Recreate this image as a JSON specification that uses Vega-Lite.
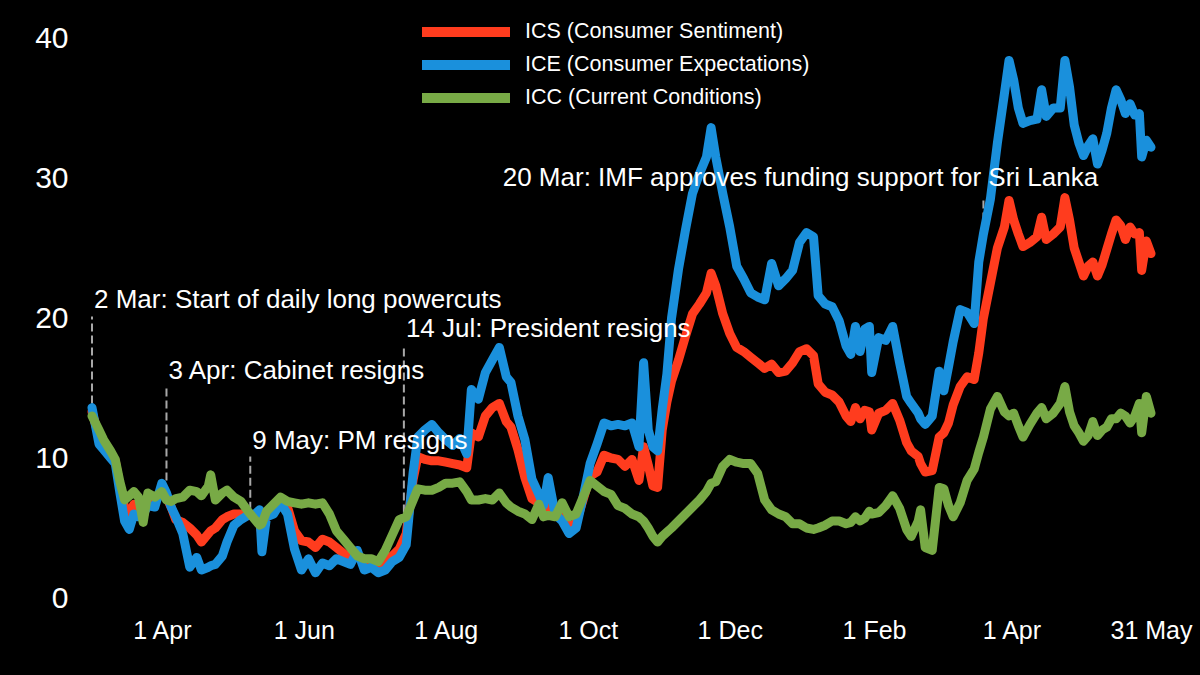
{
"$schema": "https://vega.github.io/schema/vega-lite/v6.json",
"width": 1059, "height": 560,
"autosize": {"type": "none"},
"padding": {"left": 92, "top": 38, "right": 49, "bottom": 77},
"background": "#000000",
"config": {"view": {"stroke": null}, "font": "Liberation Sans"},
"layer": [
{
"data": {"values": [
{"d":"2022-03-02","a":13.9,"b":20.1},
{"d":"2022-04-03","a":8.4,"b":15.1},
{"d":"2022-05-09","a":6.3,"b":10.1},
{"d":"2022-07-14","a":6.1,"b":18.1},
{"d":"2023-03-20","a":26.1,"b":28.6}
]},
"mark": {"type": "rule", "color": "#a8a8a8", "strokeWidth": 2, "strokeDash": [8, 4]},
"encoding": {
"x": {"field": "d", "type": "temporal",
"scale": {"type": "utc", "domain": [{"year":2022,"month":3,"date":2,"utc":true},{"year":2023,"month":5,"date":31,"utc":true}]},
"axis": {"values": [{"year":2022,"month":4,"date":1,"utc":true},{"year":2022,"month":6,"date":1,"utc":true},{"year":2022,"month":8,"date":1,"utc":true},{"year":2022,"month":10,"date":1,"utc":true},{"year":2022,"month":12,"date":1,"utc":true},{"year":2023,"month":2,"date":1,"utc":true},{"year":2023,"month":4,"date":1,"utc":true},{"year":2023,"month":5,"date":31,"utc":true}],
"labelExpr": "utcFormat(datum.value, '%-d %b')", "labelFontSize": 25, "labelColor": "#ffffff", "labelFont": "Liberation Sans",
"domain": false, "ticks": false, "grid": false, "labelPadding": 20, "title": null, "labelFlush": false, "labelOverlap": false}},
"y": {"field": "a", "type": "quantitative", "scale": {"domain": [0, 40], "nice": false},
"axis": {"values": [0, 10, 20, 30, 40], "labelFontSize": 30, "labelColor": "#ffffff", "labelFont": "Liberation Sans", "domain": false, "ticks": false, "grid": false, "labelPadding": 24, "title": null}},
"y2": {"field": "b"}
}
},
{
"data": {"values": [
{"d":"2022-03-02","ICS":13.3,"ICE":13.6,"ICC":13.0},
{"d":"2022-03-05","ICS":11.5,"ICE":11.0,"ICC":12.0},
{"d":"2022-03-07","ICS":11.0,"ICE":10.6,"ICC":11.3},
{"d":"2022-03-10","ICS":10.3,"ICE":10.0,"ICC":10.5},
{"d":"2022-03-12","ICS":9.8,"ICE":9.6,"ICC":9.9},
{"d":"2022-03-14","ICS":8.0,"ICE":7.5,"ICC":8.3},
{"d":"2022-03-16","ICS":6.5,"ICE":5.5,"ICC":7.0},
{"d":"2022-03-18","ICS":6.0,"ICE":4.9,"ICC":7.3},
{"d":"2022-03-20","ICS":6.7,"ICE":6.0,"ICC":7.6},
{"d":"2022-03-22","ICS":6.5,"ICE":5.8,"ICC":7.2},
{"d":"2022-03-24","ICS":5.8,"ICE":6.0,"ICC":5.4},
{"d":"2022-03-26","ICS":7.0,"ICE":6.6,"ICC":7.5},
{"d":"2022-03-29","ICS":6.8,"ICE":6.5,"ICC":7.2},
{"d":"2022-04-01","ICS":7.8,"ICE":8.2,"ICC":7.6},
{"d":"2022-04-03","ICS":7.2,"ICE":7.5,"ICC":7.0},
{"d":"2022-04-05","ICS":6.5,"ICE":6.5,"ICC":6.9},
{"d":"2022-04-07","ICS":5.6,"ICE":5.8,"ICC":7.1},
{"d":"2022-04-10","ICS":5.4,"ICE":4.6,"ICC":7.2},
{"d":"2022-04-13","ICS":5.0,"ICE":2.2,"ICC":7.7},
{"d":"2022-04-16","ICS":4.5,"ICE":2.9,"ICC":7.6},
{"d":"2022-04-18","ICS":4.0,"ICE":2.0,"ICC":7.3},
{"d":"2022-04-21","ICS":4.6,"ICE":2.2,"ICC":8.0},
{"d":"2022-04-22","ICS":4.8,"ICE":2.3,"ICC":8.8},
{"d":"2022-04-24","ICS":5.0,"ICE":2.4,"ICC":7.0},
{"d":"2022-04-27","ICS":5.6,"ICE":3.0,"ICC":7.5},
{"d":"2022-04-29","ICS":5.8,"ICE":4.0,"ICC":7.7},
{"d":"2022-05-02","ICS":6.0,"ICE":5.2,"ICC":7.2},
{"d":"2022-05-05","ICS":6.0,"ICE":5.6,"ICC":6.9},
{"d":"2022-05-08","ICS":6.0,"ICE":5.9,"ICC":6.2},
{"d":"2022-05-11","ICS":5.8,"ICE":6.0,"ICC":5.6},
{"d":"2022-05-13","ICS":5.5,"ICE":6.3,"ICC":5.2},
{"d":"2022-05-14","ICS":4.5,"ICE":3.3,"ICC":5.3},
{"d":"2022-05-16","ICS":6.0,"ICE":5.8,"ICC":6.2},
{"d":"2022-05-19","ICS":6.3,"ICE":6.0,"ICC":6.7},
{"d":"2022-05-22","ICS":7.0,"ICE":6.8,"ICC":7.2},
{"d":"2022-05-25","ICS":6.5,"ICE":6.0,"ICC":6.9},
{"d":"2022-05-28","ICS":4.8,"ICE":3.5,"ICC":6.8},
{"d":"2022-05-31","ICS":4.1,"ICE":2.0,"ICC":6.7},
{"d":"2022-06-03","ICS":4.0,"ICE":2.8,"ICC":6.8},
{"d":"2022-06-06","ICS":3.6,"ICE":1.8,"ICC":6.7},
{"d":"2022-06-09","ICS":4.2,"ICE":2.5,"ICC":6.8},
{"d":"2022-06-12","ICS":4.0,"ICE":2.3,"ICC":6.0},
{"d":"2022-06-15","ICS":3.6,"ICE":2.8,"ICC":4.8},
{"d":"2022-06-18","ICS":3.2,"ICE":2.6,"ICC":4.2},
{"d":"2022-06-21","ICS":2.8,"ICE":2.4,"ICC":3.6},
{"d":"2022-06-24","ICS":3.0,"ICE":3.4,"ICC":3.0},
{"d":"2022-06-27","ICS":2.6,"ICE":2.0,"ICC":2.8},
{"d":"2022-06-30","ICS":2.5,"ICE":2.2,"ICC":2.8},
{"d":"2022-07-03","ICS":2.3,"ICE":1.8,"ICC":2.6},
{"d":"2022-07-06","ICS":2.8,"ICE":2.0,"ICC":3.4},
{"d":"2022-07-09","ICS":3.0,"ICE":2.6,"ICC":4.5},
{"d":"2022-07-12","ICS":3.5,"ICE":2.9,"ICC":5.6},
{"d":"2022-07-15","ICS":4.6,"ICE":3.8,"ICC":5.8},
{"d":"2022-07-18","ICS":8.5,"ICE":9.0,"ICC":7.0},
{"d":"2022-07-20","ICS":10.1,"ICE":11.5,"ICC":7.8},
{"d":"2022-07-23","ICS":9.9,"ICE":12.0,"ICC":7.7},
{"d":"2022-07-26","ICS":9.8,"ICE":12.4,"ICC":7.7},
{"d":"2022-07-29","ICS":9.8,"ICE":11.8,"ICC":7.9},
{"d":"2022-08-01","ICS":9.7,"ICE":11.3,"ICC":8.2},
{"d":"2022-08-04","ICS":9.6,"ICE":10.9,"ICC":8.2},
{"d":"2022-08-07","ICS":9.5,"ICE":11.4,"ICC":8.3},
{"d":"2022-08-10","ICS":9.3,"ICE":10.3,"ICC":7.6},
{"d":"2022-08-12","ICS":11.8,"ICE":14.9,"ICC":7.0},
{"d":"2022-08-15","ICS":11.5,"ICE":14.2,"ICC":7.0},
{"d":"2022-08-18","ICS":13.0,"ICE":16.1,"ICC":7.1},
{"d":"2022-08-21","ICS":13.6,"ICE":17.0,"ICC":7.0},
{"d":"2022-08-24","ICS":13.9,"ICE":17.9,"ICC":7.5},
{"d":"2022-08-27","ICS":12.6,"ICE":15.8,"ICC":6.8},
{"d":"2022-08-29","ICS":12.2,"ICE":15.4,"ICC":6.5},
{"d":"2022-09-01","ICS":10.6,"ICE":13.0,"ICC":6.2},
{"d":"2022-09-04","ICS":8.6,"ICE":11.3,"ICC":6.0},
{"d":"2022-09-07","ICS":7.1,"ICE":8.5,"ICC":5.6},
{"d":"2022-09-10","ICS":6.8,"ICE":7.4,"ICC":6.7},
{"d":"2022-09-12","ICS":6.0,"ICE":6.6,"ICC":5.8},
{"d":"2022-09-14","ICS":6.8,"ICE":8.6,"ICC":5.9},
{"d":"2022-09-17","ICS":5.9,"ICE":6.0,"ICC":5.8},
{"d":"2022-09-20","ICS":5.9,"ICE":5.5,"ICC":6.8},
{"d":"2022-09-23","ICS":5.0,"ICE":4.6,"ICC":5.8},
{"d":"2022-09-26","ICS":5.4,"ICE":5.0,"ICC":6.0},
{"d":"2022-09-29","ICS":7.0,"ICE":7.2,"ICC":7.2},
{"d":"2022-10-02","ICS":8.7,"ICE":9.6,"ICC":8.4},
{"d":"2022-10-05","ICS":9.0,"ICE":11.0,"ICC":8.0},
{"d":"2022-10-08","ICS":10.2,"ICE":12.5,"ICC":7.6},
{"d":"2022-10-11","ICS":10.0,"ICE":12.3,"ICC":7.4},
{"d":"2022-10-14","ICS":9.9,"ICE":12.4,"ICC":6.6},
{"d":"2022-10-17","ICS":9.4,"ICE":12.3,"ICC":6.4},
{"d":"2022-10-20","ICS":9.9,"ICE":12.5,"ICC":6.0},
{"d":"2022-10-23","ICS":8.4,"ICE":10.8,"ICC":5.8},
{"d":"2022-10-25","ICS":10.8,"ICE":16.8,"ICC":5.5},
{"d":"2022-10-27","ICS":9.5,"ICE":12.0,"ICC":5.0},
{"d":"2022-10-29","ICS":8.0,"ICE":10.8,"ICC":4.4},
{"d":"2022-10-31","ICS":7.9,"ICE":10.5,"ICC":4.0},
{"d":"2022-11-02","ICS":12.0,"ICE":13.5,"ICC":4.4},
{"d":"2022-11-04","ICS":14.0,"ICE":16.0,"ICC":4.7},
{"d":"2022-11-06","ICS":15.5,"ICE":20.0,"ICC":5.0},
{"d":"2022-11-09","ICS":17.0,"ICE":23.5,"ICC":5.5},
{"d":"2022-11-12","ICS":18.7,"ICE":26.3,"ICC":6.0},
{"d":"2022-11-15","ICS":20.3,"ICE":28.9,"ICC":6.5},
{"d":"2022-11-18","ICS":21.0,"ICE":30.3,"ICC":7.0},
{"d":"2022-11-21","ICS":21.8,"ICE":31.5,"ICC":7.6},
{"d":"2022-11-23","ICS":23.2,"ICE":33.6,"ICC":8.2},
{"d":"2022-11-25","ICS":22.3,"ICE":31.5,"ICC":8.3},
{"d":"2022-11-28","ICS":20.3,"ICE":28.9,"ICC":9.4},
{"d":"2022-12-01","ICS":18.9,"ICE":26.5,"ICC":9.9},
{"d":"2022-12-04","ICS":17.9,"ICE":23.7,"ICC":9.7},
{"d":"2022-12-07","ICS":17.6,"ICE":22.8,"ICC":9.6},
{"d":"2022-12-10","ICS":17.2,"ICE":21.8,"ICC":9.6},
{"d":"2022-12-13","ICS":16.8,"ICE":21.5,"ICC":8.9},
{"d":"2022-12-16","ICS":16.4,"ICE":21.3,"ICC":7.0},
{"d":"2022-12-19","ICS":16.7,"ICE":23.9,"ICC":6.3},
{"d":"2022-12-22","ICS":16.1,"ICE":22.3,"ICC":6.0},
{"d":"2022-12-25","ICS":16.2,"ICE":22.8,"ICC":5.8},
{"d":"2022-12-28","ICS":16.8,"ICE":23.4,"ICC":5.3},
{"d":"2022-12-31","ICS":17.6,"ICE":25.4,"ICC":5.3},
{"d":"2023-01-03","ICS":17.8,"ICE":26.1,"ICC":5.0},
{"d":"2023-01-06","ICS":17.3,"ICE":25.8,"ICC":4.9},
{"d":"2023-01-08","ICS":15.3,"ICE":21.6,"ICC":5.0},
{"d":"2023-01-11","ICS":14.7,"ICE":21.0,"ICC":5.2},
{"d":"2023-01-14","ICS":14.5,"ICE":20.8,"ICC":5.5},
{"d":"2023-01-17","ICS":14.0,"ICE":19.8,"ICC":5.5},
{"d":"2023-01-20","ICS":13.0,"ICE":18.0,"ICC":5.3},
{"d":"2023-01-22","ICS":12.6,"ICE":17.4,"ICC":5.4},
{"d":"2023-01-24","ICS":13.6,"ICE":19.4,"ICC":5.8},
{"d":"2023-01-26","ICS":12.8,"ICE":17.6,"ICC":5.5},
{"d":"2023-01-28","ICS":13.4,"ICE":19.2,"ICC":5.7},
{"d":"2023-01-30","ICS":13.3,"ICE":19.4,"ICC":6.2},
{"d":"2023-01-31","ICS":12.0,"ICE":16.1,"ICC":6.0},
{"d":"2023-02-03","ICS":13.2,"ICE":18.6,"ICC":6.1},
{"d":"2023-02-06","ICS":13.4,"ICE":18.4,"ICC":6.6},
{"d":"2023-02-09","ICS":13.9,"ICE":19.4,"ICC":7.3},
{"d":"2023-02-12","ICS":12.7,"ICE":16.8,"ICC":6.4},
{"d":"2023-02-15","ICS":11.1,"ICE":14.4,"ICC":4.9},
{"d":"2023-02-17","ICS":10.5,"ICE":13.9,"ICC":4.4},
{"d":"2023-02-20","ICS":10.1,"ICE":13.2,"ICC":5.5},
{"d":"2023-02-21","ICS":9.6,"ICE":12.8,"ICC":6.3},
{"d":"2023-02-23","ICS":9.0,"ICE":12.4,"ICC":3.6},
{"d":"2023-02-26","ICS":9.1,"ICE":13.0,"ICC":3.4},
{"d":"2023-03-01","ICS":11.5,"ICE":16.2,"ICC":7.9},
{"d":"2023-03-03","ICS":11.8,"ICE":14.8,"ICC":7.8},
{"d":"2023-03-05","ICS":12.5,"ICE":16.5,"ICC":6.6},
{"d":"2023-03-07","ICS":13.8,"ICE":18.3,"ICC":5.8},
{"d":"2023-03-10","ICS":15.1,"ICE":20.6,"ICC":6.8},
{"d":"2023-03-13","ICS":15.8,"ICE":20.4,"ICC":8.4},
{"d":"2023-03-16","ICS":15.6,"ICE":19.6,"ICC":9.2},
{"d":"2023-03-18","ICS":17.5,"ICE":24.0,"ICC":10.4},
{"d":"2023-03-20","ICS":20.0,"ICE":26.0,"ICC":11.5},
{"d":"2023-03-23","ICS":22.5,"ICE":28.5,"ICC":13.5},
{"d":"2023-03-26","ICS":25.0,"ICE":32.5,"ICC":14.4},
{"d":"2023-03-29","ICS":26.5,"ICE":36.0,"ICC":13.3},
{"d":"2023-03-31","ICS":28.4,"ICE":38.4,"ICC":13.0},
{"d":"2023-04-02","ICS":27.0,"ICE":37.0,"ICC":13.2},
{"d":"2023-04-04","ICS":26.0,"ICE":35.0,"ICC":12.3},
{"d":"2023-04-06","ICS":25.1,"ICE":33.9,"ICC":11.5},
{"d":"2023-04-09","ICS":25.4,"ICE":34.1,"ICC":12.4},
{"d":"2023-04-12","ICS":25.8,"ICE":34.2,"ICC":13.2},
{"d":"2023-04-14","ICS":27.2,"ICE":36.3,"ICC":13.6},
{"d":"2023-04-16","ICS":25.6,"ICE":34.4,"ICC":12.8},
{"d":"2023-04-19","ICS":26.0,"ICE":35.0,"ICC":13.2},
{"d":"2023-04-22","ICS":26.5,"ICE":35.0,"ICC":13.9},
{"d":"2023-04-24","ICS":28.6,"ICE":38.4,"ICC":15.1},
{"d":"2023-04-26","ICS":27.0,"ICE":36.5,"ICC":13.3},
{"d":"2023-04-28","ICS":25.0,"ICE":33.8,"ICC":12.3},
{"d":"2023-04-30","ICS":24.0,"ICE":32.5,"ICC":11.8},
{"d":"2023-05-02","ICS":23.0,"ICE":31.6,"ICC":11.2},
{"d":"2023-05-04","ICS":23.7,"ICE":32.3,"ICC":11.6},
{"d":"2023-05-06","ICS":24.0,"ICE":32.8,"ICC":12.6},
{"d":"2023-05-08","ICS":23.0,"ICE":31.0,"ICC":11.6},
{"d":"2023-05-10","ICS":23.8,"ICE":32.0,"ICC":12.0},
{"d":"2023-05-12","ICS":24.9,"ICE":33.2,"ICC":12.2},
{"d":"2023-05-14","ICS":26.0,"ICE":35.0,"ICC":12.8},
{"d":"2023-05-16","ICS":27.0,"ICE":36.3,"ICC":12.8},
{"d":"2023-05-18","ICS":26.6,"ICE":35.6,"ICC":13.2},
{"d":"2023-05-20","ICS":25.6,"ICE":34.6,"ICC":13.0},
{"d":"2023-05-22","ICS":26.5,"ICE":35.3,"ICC":12.5},
{"d":"2023-05-24","ICS":26.0,"ICE":34.5,"ICC":13.0},
{"d":"2023-05-26","ICS":26.1,"ICE":34.6,"ICC":13.9},
{"d":"2023-05-27","ICS":23.4,"ICE":31.5,"ICC":11.8},
{"d":"2023-05-29","ICS":25.5,"ICE":32.7,"ICC":14.4},
{"d":"2023-05-31","ICS":24.6,"ICE":32.2,"ICC":13.2}
]},
"transform": [{"fold": ["ICS", "ICE", "ICC"], "as": ["series", "value"]}],
"mark": {"type": "line", "strokeWidth": 9, "strokeJoin": "round", "strokeCap": "round"},
"encoding": {
"x": {"field": "d", "type": "temporal"},
"y": {"field": "value", "type": "quantitative"},
"color": {"field": "series", "type": "nominal",
"scale": {"domain": ["ICS", "ICE", "ICC"], "range": ["#ff3c1e", "#1a90dc", "#78aa46"]},
"legend": {"orient": "none", "legendX": 325, "legendY": -19, "title": null, "padding": 0,
"symbolType": "stroke", "symbolSize": 7744, "symbolStrokeWidth": 10, "clipHeight": 26,
"labelFontSize": 21.5, "labelColor": "#ffffff", "labelFont": "Liberation Sans", "labelOffset": 10, "rowPadding": 7, "labelLimit": 0,
"labelExpr": "datum.label == 'ICS' ? 'ICS (Consumer Sentiment)' : datum.label == 'ICE' ? 'ICE (Consumer Expectations)' : 'ICC (Current Conditions)'"}}
}
},
{
"data": {"values": [
{"d":"2022-03-02","v":20.7,"t":"2 Mar: Start of daily long powercuts"},
{"d":"2022-04-03","v":15.64,"t":"3 Apr: Cabinet resigns"},
{"d":"2022-05-09","v":10.64,"t":"9 May: PM resigns"},
{"d":"2022-07-14","v":18.64,"t":"14 Jul: President resigns"}
]},
"mark": {"type": "text", "align": "left", "baseline": "alphabetic", "dx": 2, "fontSize": 26, "font": "Liberation Sans", "color": "#ffffff"},
"encoding": {
"x": {"field": "d", "type": "temporal"},
"y": {"field": "v", "type": "quantitative"},
"text": {"field": "t"}
}
},
{
"data": {"values": [
{"d":"2023-03-20","v":29.43,"t":"20 Mar: IMF approves funding support for Sri Lanka"}
]},
"mark": {"type": "text", "align": "center", "baseline": "alphabetic", "dx": -183, "fontSize": 26, "font": "Liberation Sans", "color": "#ffffff"},
"encoding": {
"x": {"field": "d", "type": "temporal"},
"y": {"field": "v", "type": "quantitative"},
"text": {"field": "t"}
}
}
]
}
